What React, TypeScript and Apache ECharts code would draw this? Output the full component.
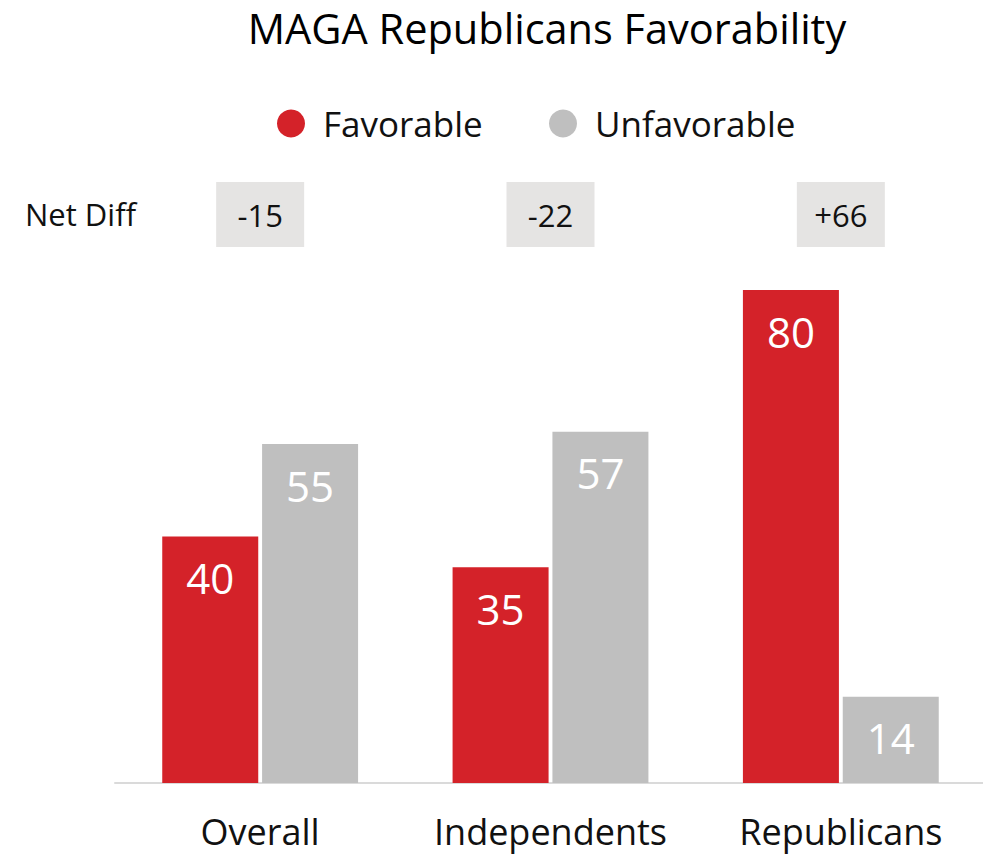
import React, { useEffect, useRef } from "react";
import * as echarts from "echarts";

const categories = ["Overall", "Independents", "Republicans"];
const favorable = [40, 35, 80];
const unfavorable = [55, 57, 14];
const netDiff = [-15, -22, 66];
const seriesNames = ["Favorable", "Unfavorable"];
const titleText = "MAGA Republicans Favorability";
const netDiffLabel = "Net Diff";

const FONT = "'Open Sans', 'Noto Sans', sans-serif";
const RED = "#d42229";
const GRAY = "#bfbfbf";

export default function App() {
  const ref = useRef<HTMLDivElement>(null);
  useEffect(() => {
    if (!ref.current) return;
    const chart = echarts.init(ref.current, null, { renderer: "svg" });
    const fmt = (v: number) => (v > 0 ? "+" + v : String(v));
    const legendText = { fontFamily: FONT, fontSize: 35, color: "#111", padding: [0, 0, 0, 13] };
    chart.setOption({
      animation: false,
      textStyle: { fontFamily: FONT },
      title: {
        text: titleText,
        left: 542,
        textAlign: "center",
        top: 2,
        textStyle: { fontFamily: FONT, fontSize: 41.5, fontWeight: "normal", color: "#000" },
      },
      legend: [
        {
          data: [seriesNames[0]],
          left: 272,
          top: 101,
          icon: "circle",
          itemWidth: 28,
          itemHeight: 28,
          textStyle: legendText,
        },
        {
          data: [seriesNames[1]],
          left: 544,
          top: 101,
          icon: "circle",
          itemWidth: 28,
          itemHeight: 28,
          textStyle: legendText,
        },
      ],
      grid: { left: 115, width: 871, top: 290, bottom: 72, containLabel: false },
      xAxis: {
        type: "category",
        data: categories,
        axisTick: { show: false },
        axisLine: { show: true, lineStyle: { color: "#dadada", width: 2 } },
        axisLabel: { fontFamily: FONT, fontSize: 36, color: "#111", margin: 30, interval: 0 },
      },
      yAxis: {
        type: "value",
        min: 0,
        max: 80,
        show: false,
        splitLine: { show: false },
      },
      graphic: [
        {
          type: "text",
          x: 25,
          y: 214,
          style: {
            text: netDiffLabel,
            font: `31px ${FONT}`,
            fill: "#111",
            verticalAlign: "middle",
          },
        },
      ],
      series: [
        {
          name: seriesNames[0],
          type: "bar",
          data: favorable,
          barWidth: 96,
          barGap: "4%",
          itemStyle: { color: RED },
          label: {
            show: true,
            position: "insideTop",
            distance: 20,
            color: "#fff",
            fontFamily: FONT,
            fontSize: 42,
            fontWeight: 500,
          },
        },
        {
          name: seriesNames[1],
          type: "bar",
          data: unfavorable,
          barWidth: 96,
          barGap: "4%",
          itemStyle: { color: GRAY },
          label: {
            show: true,
            position: "insideTop",
            distance: 20,
            color: "#fff",
            fontFamily: FONT,
            fontSize: 42,
            fontWeight: 500,
          },
        },
        {
          name: netDiffLabel,
          type: "custom",
          clip: false,
          silent: true,
          data: netDiff.map((v, i) => [i, v]),
          encode: { x: 0, y: 1 },
          renderItem: (params: any, api: any) => {
            const x = api.coord([api.value(0), 0])[0];
            const v = api.value(1);
            return {
              type: "group",
              children: [
                {
                  type: "rect",
                  shape: { x: x - 44, y: 182, width: 88, height: 65 },
                  style: { fill: "#e5e4e3" },
                },
                {
                  type: "text",
                  style: {
                    text: fmt(v),
                    x: x,
                    y: 214.5,
                    align: "center",
                    verticalAlign: "middle",
                    font: `31px ${FONT}`,
                    fill: "#111",
                  },
                },
              ],
            };
          },
        },
      ],
    });
    return () => chart.dispose();
  }, []);
  return (
    <div
      style={{
        position: "absolute",
        left: 0,
        top: 0,
        width: 983,
        height: 855,
        overflow: "hidden",
      }}
    >
      <div ref={ref} style={{ width: 995, height: 855 }} />
    </div>
  );
}
